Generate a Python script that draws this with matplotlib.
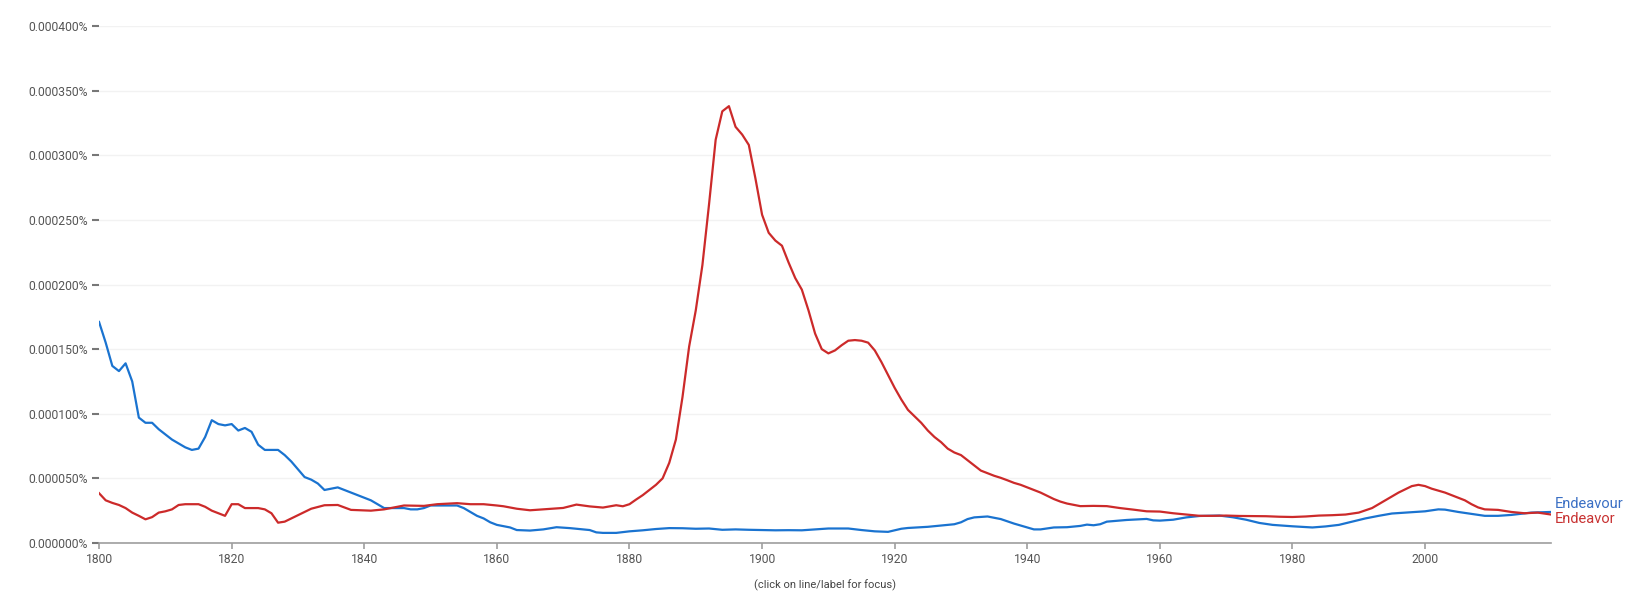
import numpy as np
import matplotlib
matplotlib.use("Agg")
import matplotlib.pyplot as plt
from matplotlib.ticker import FuncFormatter, MultipleLocator

plt.rcParams['font.family'] = ['Roboto', 'DejaVu Sans']

# values are in millionths of a percent (1e-6 %)
endeavour_years = [1800, 1801, 1802, 1803, 1804, 1805, 1806, 1807, 1808, 1809, 1810, 1811, 1812, 1813,
                   1814, 1815, 1816, 1817, 1818, 1819, 1820, 1821, 1822, 1823, 1824, 1825, 1826, 1827,
                   1828, 1829, 1830, 1831, 1832, 1833, 1834, 1835, 1836, 1837, 1838, 1839, 1840, 1841,
                   1842, 1843, 1844, 1845, 1846, 1847, 1848, 1849, 1850, 1852, 1854, 1855, 1856, 1857,
                   1858, 1859, 1860, 1861, 1862, 1863, 1865, 1867, 1869, 1871, 1873, 1874, 1875, 1876,
                   1878, 1880, 1882, 1884, 1886, 1888, 1890, 1892, 1894, 1896, 1898, 1900, 1902, 1904,
                   1906, 1908, 1910, 1913, 1915, 1917, 1919, 1921, 1922, 1925, 1928, 1929, 1930, 1931,
                   1932, 1934, 1936, 1938, 1939, 1941, 1942, 1944, 1946, 1948, 1949, 1950, 1951, 1952,
                   1955, 1958, 1959, 1960, 1962, 1964, 1966, 1969, 1971, 1973, 1975, 1977, 1980, 1983,
                   1985, 1987, 1989, 1991, 1993, 1995, 1998, 2000, 2002, 2003, 2005, 2007, 2009, 2011,
                   2013, 2016, 2019]
endeavour_vals = [171, 155, 137, 133, 139, 125, 97, 93, 93, 88, 84, 80, 77, 74,
                  72, 73, 82, 95, 92, 91, 92, 87, 89, 86, 76, 72, 72, 72,
                  68, 63, 57, 51, 49, 46, 41, 42, 43, 41, 39, 37, 35, 33,
                  30, 27, 27, 27, 27, 26, 26, 27, 29, 29, 29, 27, 24, 21,
                  19, 16, 14, 13, 12, 10, 9.6, 10.5, 12.2, 11.5, 10.5, 10, 8.2, 7.8,
                  7.8, 9, 9.8, 10.8, 11.5, 11.4, 11, 11.2, 10.2, 10.5, 10.2, 10, 9.8, 9.9,
                  9.8, 10.5, 11.2, 11.2, 10, 9, 8.6, 11, 11.6, 12.5, 14, 14.5, 16, 18.5,
                  19.8, 20.5, 18.5, 15, 13.5, 10.5, 10.5, 12, 12.2, 13.2, 14.2, 13.7, 14.5, 16.5,
                  17.8, 18.6, 17.5, 17.3, 18, 19.8, 20.9, 21.2, 19.9, 18, 15.5, 14, 12.9, 12,
                  12.8, 14, 16.5, 19, 21, 22.8, 23.8, 24.5, 26, 25.8, 24, 22.5, 21, 21,
                  21.7, 23.5, 24]

endeavor_years = [1800, 1801, 1802, 1803, 1804, 1805, 1806, 1807, 1808, 1809, 1810, 1811, 1812, 1813,
                  1815, 1816, 1817, 1818, 1819, 1820, 1821, 1822, 1824, 1825, 1826, 1827, 1828, 1829,
                  1830, 1831, 1832, 1834, 1836, 1837, 1838, 1840, 1841, 1843, 1845, 1846, 1849, 1851,
                  1854, 1856, 1858, 1860, 1861, 1863, 1865, 1867, 1868, 1870, 1872, 1874, 1876, 1878,
                  1879, 1880, 1881, 1882, 1883, 1884, 1885, 1886, 1887, 1888, 1889, 1890, 1891, 1892,
                  1893, 1894, 1895, 1896, 1897, 1898, 1899, 1900, 1901, 1902, 1903, 1904, 1905, 1906,
                  1907, 1908, 1909, 1910, 1911, 1912, 1913, 1914, 1915, 1916, 1917, 1918, 1919, 1920,
                  1921, 1922, 1923, 1924, 1925, 1926, 1927, 1928, 1929, 1930, 1931, 1932, 1933, 1934,
                  1935, 1936, 1937, 1938, 1939, 1940, 1941, 1942, 1943, 1944, 1945, 1946, 1947, 1948,
                  1950, 1952, 1954, 1956, 1958, 1960, 1962, 1964, 1966, 1968, 1970, 1972, 1974, 1976,
                  1978, 1980, 1982, 1984, 1986, 1988, 1990, 1992, 1994, 1996, 1998, 1999, 2000, 2001,
                  2002, 2003, 2004, 2005, 2006, 2007, 2008, 2009, 2011, 2013, 2015, 2017, 2019]
endeavor_vals = [38.5, 33, 31, 29.4, 27, 23.5, 21, 18.3, 20, 23.5, 24.5, 26, 29.4, 30,
                 30, 28, 25, 23, 21, 30, 30, 27, 27, 26, 23, 15.7, 16.5, 19,
                 21.5, 24, 26.5, 29.2, 29.4, 27.5, 25.6, 25.2, 25, 26, 28, 29, 28.7, 30,
                 30.8, 30, 30, 29, 28.4, 26.5, 25.3, 26, 26.4, 27.1, 29.7, 28.3, 27.4, 29.2,
                 28.4, 30, 33.6, 37, 41, 45, 50, 62, 80, 113, 152, 180, 215, 262,
                 312, 334, 338, 322, 316, 308, 282, 254, 240, 234, 230, 217, 205, 196,
                 180, 162, 150, 146.7, 149, 153, 156.5, 157, 156.5, 155, 149, 140, 130, 120,
                 111, 103, 98, 93, 87, 82, 78, 73, 70, 68, 64, 60, 56, 54,
                 52, 50.4, 48.5, 46.5, 45, 43, 41, 39, 36.5, 34, 32, 30.5, 29.5, 28.5,
                 28.7, 28.5, 27, 25.8, 24.5, 24.3, 23, 22, 21, 21, 21.2, 20.9, 20.8, 20.7,
                 20.3, 20.1, 20.5, 21.2, 21.5, 22, 23.5, 27, 33, 39, 44, 45, 44, 42,
                 40.5, 39, 37, 35, 33, 30, 27.5, 26, 25.6, 24, 23, 23.5, 22]

series_names = ["Endeavour", "Endeavor"]
series_colors = ["#1a73d0", "#cc2a2a"]

fig = plt.figure(figsize=(16.32, 5.97), dpi=100)
ax = fig.add_axes([0.0607, 0.0905, 0.8897, 0.8659])

b_y = np.array(endeavour_vals) * 1e-6
r_y = np.array(endeavor_vals) * 1e-6
ax.plot(endeavour_years, b_y, color=series_colors[0], lw=1.6, solid_joinstyle='round')
ax.plot(endeavor_years, r_y, color=series_colors[1], lw=1.6, solid_joinstyle='round')

ax.set_xlim(1800, 2019)
ax.set_ylim(0, 0.0004)
ax.yaxis.set_major_locator(MultipleLocator(0.00005))
ax.xaxis.set_major_locator(MultipleLocator(20))
ax.yaxis.set_major_formatter(FuncFormatter(lambda v, p: f"{v:.6f}%"))
ax.xaxis.set_major_formatter(FuncFormatter(lambda v, p: f"{int(v)}"))

ax.grid(axis='y', color='#f2f2f2', lw=1)
ax.set_axisbelow(True)
for s in ['top', 'right', 'left']:
    ax.spines[s].set_visible(False)
ax.spines['bottom'].set_color('#9e9e9e')
ax.spines['bottom'].set_linewidth(1.2)
ax.tick_params(axis='y', length=5, width=1.5, color='#777777', pad=3,
               labelsize=8.7, labelcolor='#555555')
ax.tick_params(axis='x', length=4, width=1.2, color='#9e9e9e', pad=3,
               labelsize=8.7, labelcolor='#555555')

ax.set_xlabel("(click on line/label for focus)", fontsize=8, color='#444444', labelpad=10)

# end labels, spread around the mean of the final values
mid = (b_y[-1] + r_y[-1]) / 2
ax.annotate(series_names[0], xy=(endeavour_years[-1], mid), xytext=(3, 6.5),
            textcoords='offset points', color='#3a6fc4', fontsize=10.5,
            va='center', ha='left', annotation_clip=False)
ax.annotate(series_names[1], xy=(endeavor_years[-1], mid), xytext=(3, -4.5),
            textcoords='offset points', color='#c83232', fontsize=10.5,
            va='center', ha='left', annotation_clip=False)

fig.savefig("out.png", dpi=100)
